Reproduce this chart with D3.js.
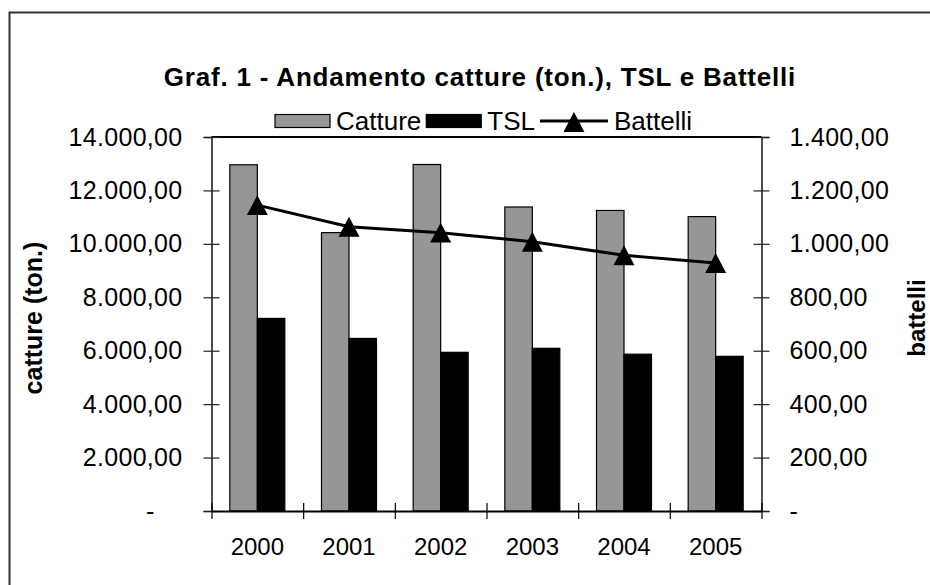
<!DOCTYPE html>
<html>
<head>
<meta charset="utf-8">
<script src="https://cdn.jsdelivr.net/npm/d3@7"></script>
<style>
  html, body { margin: 0; padding: 0; background: #fff; }
  svg { display: block; font-family: "Liberation Sans", Arial, sans-serif; }
</style>
</head>
<body>
<svg id="chart" width="930" height="585"></svg>
<script>
// ---- data ----
const years = ["2000", "2001", "2002", "2003", "2004", "2005"];
const catture = [12960, 10420, 12970, 11380, 11250, 11020];
const tsl = [7210, 6460, 5940, 6090, 5870, 5790];
const battelli = [1145, 1064, 1042, 1008, 957, 928];
const leftTicks = [0, 2000, 4000, 6000, 8000, 10000, 12000, 14000];
const rightTicks = [0, 200, 400, 600, 800, 1000, 1200, 1400];
const seriesNames = ["Catture", "TSL", "Battelli"];
const titleText = "Graf. 1 - Andamento catture (ton.), TSL e Battelli";
const leftTitle = "catture (ton.)";
const rightTitle = "battelli";

// ---- layout ----
const W = 930, H = 585;
const P = { left: 211.5, right: 761.5, top: 137, bottom: 511 };
const GRAY = "#969696";
const FONT = 25;
const FF = "Liberation Sans, Arial, sans-serif";

const svg = d3.select("#chart");

// outer chart border (extends beyond the picture on the right/bottom)
svg.append("rect")
  .attr("x", 9.5).attr("y", 12.5)
  .attr("width", W + 20).attr("height", H + 20)
  .attr("fill", "none").attr("stroke", "#333").attr("stroke-width", 2);

// number format it-IT style: 14.000,00 ; 0 -> "-"
const itLocale = d3.formatLocale({ decimal: ",", thousands: ".", grouping: [3], currency: ["€", ""] });
const fmt = itLocale.format(",.2f");
const tickFmt = v => v === 0 ? "-" : fmt(v);

// scales
const x = d3.scaleBand().domain(years).range([P.left, P.right]).paddingInner(0.4).paddingOuter(0.2);
const xSub = d3.scaleBand().domain(["Catture", "TSL"]).range([0, x.bandwidth()]);
const xBound = d3.scaleLinear().domain([0, years.length]).range([P.left, P.right]);
const yL = d3.scaleLinear().domain([0, 14000]).range([P.bottom, P.top]);
const yR = d3.scaleLinear().domain([0, 1400]).range([P.bottom, P.top]);

// bars
const g = svg.append("g");
years.forEach((yr, i) => {
  g.append("rect")
    .attr("x", x(yr) + xSub("Catture"))
    .attr("y", yL(catture[i]))
    .attr("width", xSub.bandwidth())
    .attr("height", yL(0) - yL(catture[i]))
    .attr("fill", GRAY).attr("stroke", "#000").attr("stroke-width", 1.2);
  g.append("rect")
    .attr("x", x(yr) + xSub("TSL"))
    .attr("y", yL(tsl[i]))
    .attr("width", xSub.bandwidth())
    .attr("height", yL(0) - yL(tsl[i]))
    .attr("fill", "#000").attr("stroke", "#000").attr("stroke-width", 1.2);
});

// plot area border (top)
svg.append("line")
  .attr("x1", P.left).attr("x2", P.right).attr("y1", P.top).attr("y2", P.top)
  .attr("stroke", "#000").attr("stroke-width", 2);

// left axis
const axL = svg.append("g").attr("transform", `translate(${P.left},0)`)
  .call(d3.axisLeft(yL).tickValues(leftTicks).tickFormat(tickFmt).tickSize(8).tickPadding(21));
axL.select(".domain").attr("stroke", "#222").attr("stroke-width", 1.6);
axL.selectAll(".tick line").attr("x1", -8).attr("x2", 8).attr("stroke", "#222").attr("stroke-width", 1.2);
axL.selectAll(".tick text")
  .attr("font-size", FONT).attr("font-family", FF).attr("fill", "#000")
  .style("letter-spacing", "0.3px")
  .attr("dx", d => d === 0 ? "-1.112em" : 0);

// right axis
const axR = svg.append("g").attr("transform", `translate(${P.right},0)`)
  .call(d3.axisRight(yR).tickValues(rightTicks).tickFormat(tickFmt).tickSize(8).tickPadding(20));
axR.select(".domain").attr("stroke", "#222").attr("stroke-width", 1.6);
axR.selectAll(".tick line").attr("x1", -8).attr("x2", 8).attr("stroke", "#222").attr("stroke-width", 1.2);
axR.selectAll(".tick text")
  .attr("font-size", FONT).attr("font-family", FF).attr("fill", "#000")
  .style("letter-spacing", "0.3px");

// bottom axis: boundary ticks + category labels
const axB = svg.append("g").attr("transform", `translate(0,${P.bottom})`)
  .call(d3.axisBottom(xBound).ticks(years.length).tickFormat("").tickSize(8).tickSizeOuter(0));
axB.select(".domain").attr("stroke", "#000").attr("stroke-width", 2);
axB.selectAll(".tick line").attr("y1", -8).attr("y2", 8).attr("stroke", "#000").attr("stroke-width", 1.2);
const axB2 = svg.append("g").attr("transform", `translate(0,${P.bottom})`)
  .call(d3.axisBottom(x).tickSize(0).tickPadding(27));
axB2.select(".domain").remove();
axB2.selectAll(".tick text")
  .attr("font-size", FONT - 1).attr("font-family", FF).attr("fill", "#000");

// line + markers (right axis)
const cx = i => x(years[i]) + x.bandwidth() / 2;
const line = d3.line().x((d, i) => cx(i)).y(d => yR(d));
svg.append("path").datum(battelli)
  .attr("d", line).attr("fill", "none").attr("stroke", "#000").attr("stroke-width", 3);

const triType = {
  draw(ctx, size) {
    const w = Math.sqrt(size), h = w * 0.95;
    ctx.moveTo(0, -h / 2); ctx.lineTo(w / 2, h / 2); ctx.lineTo(-w / 2, h / 2); ctx.closePath();
  }
};
const tri = d3.symbol().type(triType).size(21 * 21);
svg.append("g").selectAll("path").data(battelli).join("path")
  .attr("transform", (d, i) => `translate(${cx(i)},${yR(d)})`)
  .attr("d", tri).attr("fill", "#000");

// axis titles
svg.append("text")
  .attr("transform", `translate(42,${(P.top + P.bottom) / 2 - 6}) rotate(-90)`)
  .attr("text-anchor", "middle").attr("font-weight", "bold").attr("font-size", FONT)
  .text(leftTitle);
svg.append("text")
  .attr("transform", `translate(925,${(P.top + P.bottom) / 2 - 6}) rotate(-90)`)
  .attr("text-anchor", "middle").attr("font-weight", "bold").attr("font-size", FONT - 1)
  .text(rightTitle);

// title
svg.append("text")
  .attr("x", 480).attr("y", 86)
  .attr("text-anchor", "middle").attr("font-weight", "bold").attr("font-size", 26)
  .style("letter-spacing", "0.8px")
  .text(titleText);

// legend
const LF = 26;
const leg = svg.append("g").attr("transform", "translate(0,121)");
let lx = 275;
leg.append("rect").attr("x", lx).attr("y", -6.5).attr("width", 55).attr("height", 13)
  .attr("fill", GRAY).attr("stroke", "#000").attr("stroke-width", 1.2);
lx += 61;
const t1 = leg.append("text").attr("x", lx).attr("y", 9).attr("font-size", LF).text(seriesNames[0]);
lx += t1.node().getComputedTextLength() + 5;
leg.append("rect").attr("x", lx).attr("y", -6.5).attr("width", 55).attr("height", 13)
  .attr("fill", "#000").attr("stroke", "#000").attr("stroke-width", 1.2);
lx += 61;
const t2 = leg.append("text").attr("x", lx).attr("y", 9).attr("font-size", LF).text(seriesNames[1]);
lx += t2.node().getComputedTextLength() + 5;
leg.append("line").attr("x1", lx).attr("x2", lx + 68).attr("y1", 0).attr("y2", 0)
  .attr("stroke", "#000").attr("stroke-width", 3);
leg.append("path").attr("transform", `translate(${lx + 34},1)`).attr("d", tri).attr("fill", "#000");
lx += 74;
leg.append("text").attr("x", lx).attr("y", 9).attr("font-size", LF).text(seriesNames[2]);
</script>
</body>
</html>
